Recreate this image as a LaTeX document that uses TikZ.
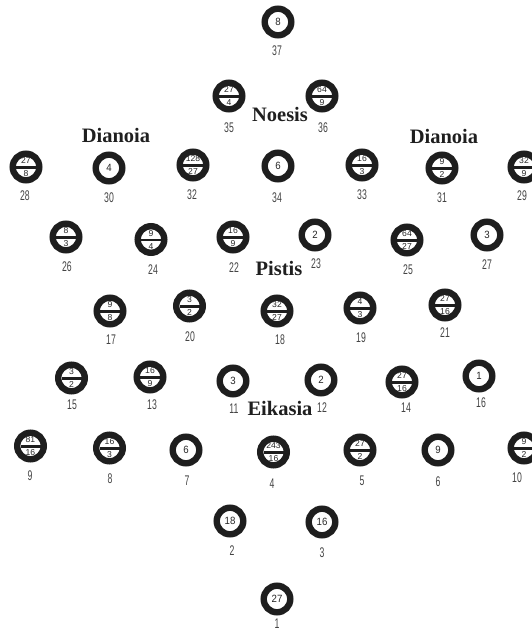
\documentclass[tikz,border=0pt]{standalone}
\usepackage{fontspec}
\usepackage{graphicx}
\setmainfont{Liberation Serif}
\newfontfamily\numfont{Liberation Sans}
\definecolor{ringc}{HTML}{1E1E1E}
\definecolor{lblc}{HTML}{444444}
\tikzset{
  ring/.style={circle, draw=ringc, line width=6.4pt, minimum size=26.6pt, inner sep=0pt},
  inum/.style={font=\numfont\fontsize{10.5}{11}\selectfont, inner sep=0pt, text=black!85},
  fnum/.style={font=\numfont\fontsize{8.6}{9}\selectfont, inner sep=0pt, text=black!85},
  lbl/.style={font=\numfont\fontsize{14}{14}\selectfont, inner sep=0pt, text=lblc},
  ttl/.style={font=\fontsize{20.5}{20.5}\selectfont\bfseries, inner sep=0pt, anchor=base, text=black!88},
  fbar/.style={line width=2.3pt, draw=ringc},
}
% integer ring: id, x, y, value, label x, label y
\newcommand\RI[6]{%
  \node[ring] (r#1) at (#2,#3) {};
  \node[inum] (v#1) at (r#1.center) {\scalebox{0.92}[1]{#4}};
  \node[lbl] (l#1) at (#5,#6) {\scalebox{0.62}[1]{#1}};
}
% fraction ring: id, x, y, num, den, label x, label y
\newcommand\RF[7]{%
  \node[ring] (r#1) at (#2,#3) {};
  \node[fnum] (n#1) at ([yshift=6.3pt]r#1.center) {#4};
  \node[fnum] (d#1) at ([yshift=-6.7pt]r#1.center) {#5};
  \draw[fbar] ([xshift=-10pt,yshift=-0.5pt]r#1.center) -- ([xshift=10pt,yshift=-0.5pt]r#1.center);
  \node[lbl] (l#1) at (#6,#7) {\scalebox{0.62}[1]{#1}};
}
\begin{document}
\begin{tikzpicture}[x=1pt,y=-1pt]
\useasboundingbox (0,0) rectangle (531,631);
% titles
\node[ttl] (noesis) at (280,122) {Noesis};
\node[ttl] (dianoiaL) at (116,143) {Dianoia};
\node[ttl] (dianoiaR) at (444,144) {Dianoia};
\node[ttl] (pistis) at (279,275) {Pistis};
\node[ttl] (eikasia) at (280,415) {Eikasia};
% top
\RI{37}{278}{22}{8}{277}{51}
\RF{35}{229}{96}{27}{4}{229}{128}
\RF{36}{322}{96}{64}{9}{323}{128}
% row dianoia
\RF{28}{26}{167}{27}{8}{25}{196}
\RI{30}{109}{168}{4}{109}{198}
\RF{32}{193}{165}{128}{27}{192}{195}
\RI{34}{278}{166}{6}{277}{198}
\RF{33}{362}{165}{16}{3}{362}{195}
\RF{31}{442}{168}{9}{2}{442}{198}
\RF{29}{524}{167}{32}{9}{522}{196}
% row pistis
\RF{26}{66}{237}{8}{3}{67}{267}
\RF{24}{151}{239.5}{9}{4}{153}{270}
\RF{22}{233}{237}{16}{9}{234}{268}
\RI{23}{315}{235}{2}{316}{264}
\RF{25}{407}{240}{64}{27}{408}{270}
\RI{27}{487}{235}{3}{487}{265}
% row
\RF{17}{110}{311}{9}{8}{111}{340}
\RF{20}{189.5}{306}{3}{2}{190}{336.5}
\RF{18}{277}{311}{32}{27}{280}{340}
\RF{19}{360}{308}{4}{3}{361}{338}
\RF{21}{445}{305}{27}{16}{445}{333}
% row eikasia
\RF{15}{71.5}{378}{3}{2}{72}{405}
\RF{13}{150}{377}{16}{9}{152}{405}
\RI{11}{233}{381}{3}{234}{409}
\RI{12}{321}{380}{2}{322}{408}
\RF{14}{402}{382}{27}{16}{406}{408}
\RI{16}{479}{376}{1}{481}{403}
% row
\RF{9}{30.5}{446}{81}{16}{30}{476}
\RF{8}{109.5}{448}{16}{3}{110}{479}
\RI{7}{186}{450}{6}{187}{481}
\RF{4}{273.5}{452}{243}{16}{272}{484}
\RF{5}{360}{450}{27}{2}{362}{481}
\RI{6}{438}{450}{9}{438}{482}
\RF{10}{524}{448}{9}{2}{517}{478}
% bottom
\RI{2}{230}{521}{18}{232}{551}
\RI{3}{322}{522}{16}{322}{553}
\RI{1}{277}{599}{27}{277}{623.5}
\end{tikzpicture}
\end{document}
